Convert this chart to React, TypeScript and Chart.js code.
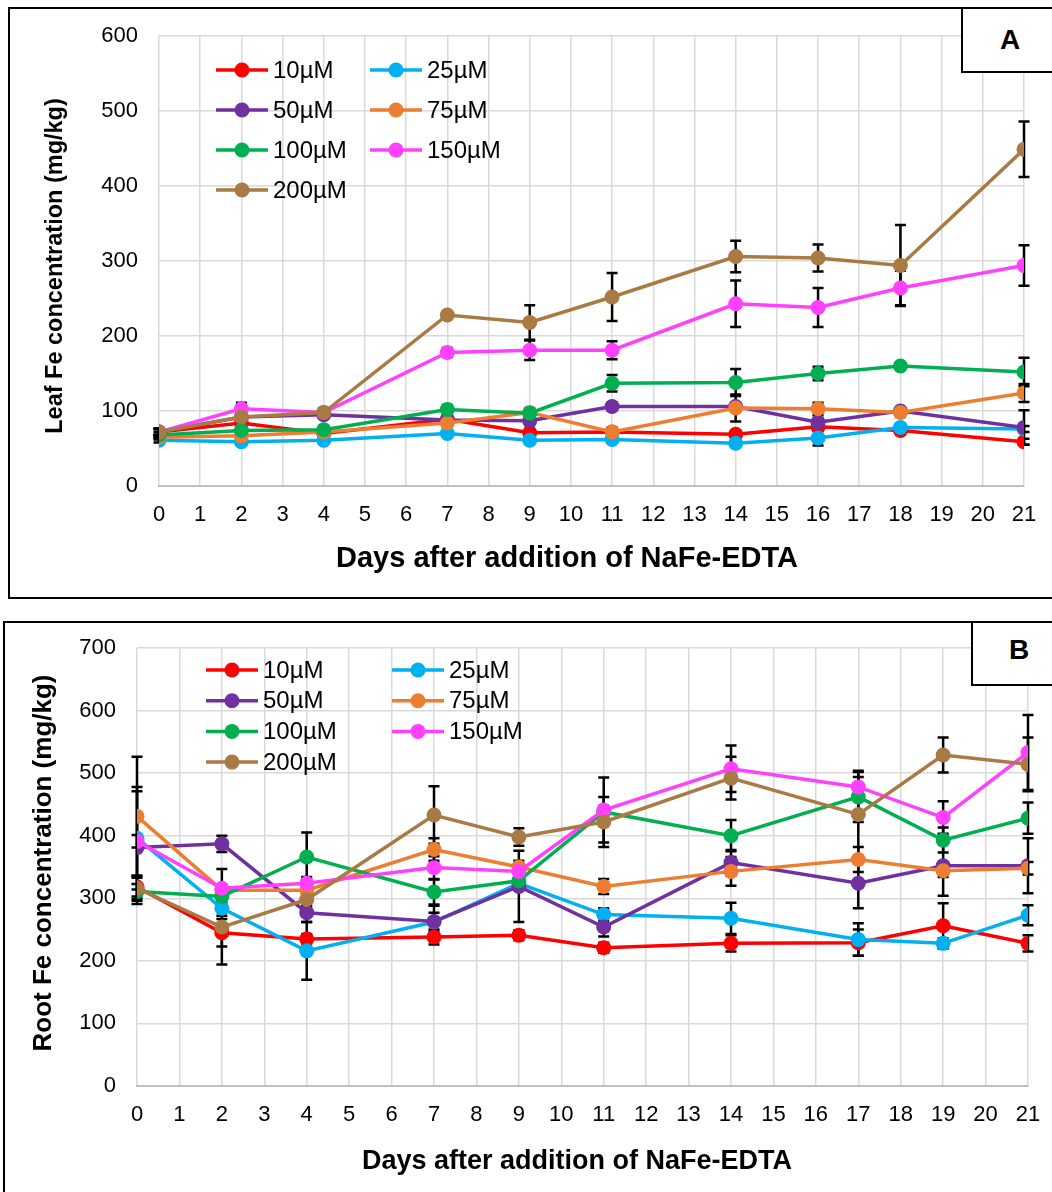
import React, { useEffect, useRef } from "react";
import { Chart, registerables } from "chart.js";

Chart.register(...registerables);

const FONT = "'Liberation Sans', Arial, sans-serif";

const seriesLabels = ["10µM", "25µM", "50µM", "75µM", "100µM", "150µM", "200µM"];
const seriesColors = ["#FF0000", "#00B0F0", "#7030A0", "#ED7D31", "#00B050", "#FF40FF", "#A97A44"];

// ---- Panel A: leaf Fe concentration (mg/kg)
const leafDays = [0, 2, 4, 7, 9, 11, 14, 16, 18, 21];
const leaf10 = [72, 84, 70, 89, 71, 72, 69, 79, 74, 59];
const leaf25 = [61, 59, 61, 70, 61, 62, 57, 64, 78, 76];
const leaf50 = [72, 92, 95, 88, 87, 106, 106, 85, 100, 78];
const leaf75 = [65, 67, 72, 84, 98, 72, 104, 103, 98, 124];
const leaf100 = [68, 74, 75, 102, 97, 137, 138, 150, 160, 152];
const leaf150 = [72, 103, 98, 178, 181, 181, 243, 238, 264, 294];
const leaf200 = [72, 92, 98, 228, 218, 252, 306, 304, 294, 449];

const leafErr10 = [4, 6, 4, 5, 5, 6, 5, 6, 5, 4];
const leafErr25 = [3, 3, 3, 4, 4, 4, 5, 10, 5, 4];
const leafErr50 = [4, 5, 4, 5, 6, 5, 5, 6, 5, 23];
const leafErr75 = [3, 4, 4, 5, 6, 5, 18, 8, 6, 12];
const leafErr100 = [4, 5, 5, 6, 6, 11, 18, 9, 5, 19];
const leafErr150 = [4, 8, 5, 6, 13, 12, 31, 26, 23, 27];
const leafErr200 = [5, 8, 6, 5, 23, 32, 21, 18, 54, 37];

// ---- Panel B: root Fe concentration (mg/kg)
const rootDays = [0, 2, 4, 7, 9, 11, 14, 17, 19, 21];
const root10 = [318, 245, 235, 238, 241, 221, 228, 229, 256, 228];
const root25 = [396, 284, 216, 262, 324, 274, 268, 234, 228, 273];
const root50 = [381, 387, 277, 263, 319, 254, 357, 324, 352, 352];
const root75 = [431, 313, 313, 378, 350, 319, 343, 362, 344, 348];
const root100 = [311, 303, 366, 310, 328, 438, 400, 462, 393, 428];
const root150 = [391, 316, 324, 349, 343, 441, 507, 478, 429, 533];
const root200 = [316, 254, 298, 433, 398, 422, 492, 434, 529, 514];

const rootErr10 = [15, 22, 8, 12, 8, 8, 13, 21, 36, 13];
const rootErr25 = [82, 12, 46, 15, 10, 10, 25, 26, 8, 16];
const rootErr50 = [90, 13, 15, 25, 57, 15, 20, 40, 48, 44];
const rootErr75 = [95, 8, 8, 18, 10, 12, 23, 20, 10, 10];
const rootErr100 = [12, 10, 39, 20, 10, 10, 25, 40, 20, 25];
const rootErr150 = [10, 31, 10, 18, 12, 52, 37, 16, 26, 60];
const rootErr200 = [20, 60, 10, 46, 14, 40, 34, 70, 28, 43];

const xTickMin = 0;
const xTickMax = 21;

type PanelCfg = {
  days: number[];
  values: number[][];
  errors: number[][];
  yMax: number;
  yTitle: string;
  xTitle: string;
  width: number;
  height: number;
  area: { left: number; top: number; right: number; bottom: number };
  tickFont: number;
  xTitleFont: number;
  xTitlePos: [number, number];
  yTitleFont: number;
  yTitlePos: [number, number];
  legend: { x0: number; y0: number; colGap: number; rowGap: number; font: number; textOff: number };
};

function makeDecor(cfg: PanelCfg) {
  return {
    id: "decor",
    beforeDatasetsDraw(chart: any) {
      const { ctx, scales } = chart;
      const xs = scales.x;
      const ys = scales.y;
      ctx.save();
      ctx.strokeStyle = "#000";
      ctx.lineWidth = 2.5;
      cfg.errors.forEach((errs, i) => {
        const vals = cfg.values[i];
        cfg.days.forEach((d, j) => {
          const e = errs[j];
          if (!e) return;
          const x = xs.getPixelForValue(d);
          const yT = ys.getPixelForValue(vals[j] + e);
          const yB = ys.getPixelForValue(vals[j] - e);
          ctx.beginPath();
          ctx.moveTo(x, yT);
          ctx.lineTo(x, yB);
          ctx.moveTo(x - 5.5, yT);
          ctx.lineTo(x + 5.5, yT);
          ctx.moveTo(x - 5.5, yB);
          ctx.lineTo(x + 5.5, yB);
          ctx.stroke();
        });
      });
      ctx.restore();
    },
    afterDraw(chart: any) {
      const { ctx } = chart;
      ctx.save();
      const lg = cfg.legend;
      seriesLabels.forEach((lab, i) => {
        const col = i % 2;
        const row = Math.floor(i / 2);
        const cx = lg.x0 + col * lg.colGap;
        const cy = lg.y0 + row * lg.rowGap;
        ctx.strokeStyle = seriesColors[i];
        ctx.lineWidth = 3.5;
        ctx.beginPath();
        ctx.moveTo(cx - 26, cy);
        ctx.lineTo(cx + 26, cy);
        ctx.stroke();
        ctx.fillStyle = seriesColors[i];
        ctx.beginPath();
        ctx.arc(cx, cy, 7.5, 0, Math.PI * 2);
        ctx.fill();
        ctx.fillStyle = "#000";
        ctx.font = `${lg.font}px ${FONT}`;
        ctx.textAlign = "left";
        ctx.textBaseline = "middle";
        ctx.fillText(lab, cx + lg.textOff, cy + 1);
      });
      ctx.fillStyle = "#000";
      ctx.font = `bold ${cfg.xTitleFont}px ${FONT}`;
      ctx.textAlign = "center";
      ctx.textBaseline = "alphabetic";
      ctx.fillText(cfg.xTitle, cfg.xTitlePos[0], cfg.xTitlePos[1]);
      ctx.translate(cfg.yTitlePos[0], cfg.yTitlePos[1]);
      ctx.rotate(-Math.PI / 2);
      ctx.font = `bold ${cfg.yTitleFont}px ${FONT}`;
      ctx.fillText(cfg.yTitle, 0, 0);
      ctx.restore();
    },
  };
}

function Panel({ cfg }: { cfg: PanelCfg }) {
  const ref = useRef<HTMLCanvasElement | null>(null);
  useEffect(() => {
    if (!ref.current) return;
    const yW = 100;
    const xH = 60;
    const chart = new Chart(ref.current, {
      type: "line",
      data: {
        datasets: seriesLabels.map((lab, i) => ({
          label: lab,
          data: cfg.days.map((d, j) => ({ x: d, y: cfg.values[i][j] })),
          borderColor: seriesColors[i],
          backgroundColor: seriesColors[i],
          pointBackgroundColor: seriesColors[i],
          pointBorderWidth: 0,
          pointRadius: 7.5,
          borderWidth: 3.5,
          tension: 0,
          fill: false,
          order: seriesLabels.length - i,
        })),
      },
      options: {
        responsive: false,
        animation: false,
        layout: {
          padding: {
            left: cfg.area.left - yW,
            top: cfg.area.top,
            right: cfg.width - cfg.area.right,
            bottom: cfg.height - cfg.area.bottom - xH,
          },
        },
        plugins: { legend: { display: false }, tooltip: { enabled: false } },
        scales: {
          x: {
            type: "linear",
            min: xTickMin,
            max: xTickMax,
            ticks: {
              stepSize: 1,
              autoSkip: false,
              maxRotation: 0,
              color: "#000",
              padding: 16,
              font: { family: FONT, size: cfg.tickFont },
            },
            grid: { color: "#D9D9D9", lineWidth: 1.5, drawTicks: false },
            border: { color: "#BFBFBF", width: 2 },
            afterFit: (s: any) => {
              s.height = xH;
              s.paddingLeft = 0;
              s.paddingRight = 0;
            },
          },
          y: {
            min: 0,
            max: cfg.yMax,
            ticks: {
              stepSize: 100,
              color: "#000",
              padding: 21,
              font: { family: FONT, size: cfg.tickFont },
            },
            grid: { color: "#D9D9D9", lineWidth: 1.5, drawTicks: false },
            border: { display: false },
            afterFit: (s: any) => {
              s.width = yW;
              s.paddingTop = 0;
              s.paddingBottom = 0;
            },
          },
        },
      } as any,
      plugins: [makeDecor(cfg)],
    });
    return () => chart.destroy();
  }, [cfg]);
  return <canvas ref={ref} width={cfg.width} height={cfg.height} style={{ display: "block" }} />;
}

const leafCfg: PanelCfg = {
  days: leafDays,
  values: [leaf10, leaf25, leaf50, leaf75, leaf100, leaf150, leaf200],
  errors: [leafErr10, leafErr25, leafErr50, leafErr75, leafErr100, leafErr150, leafErr200],
  yMax: 600,
  yTitle: "Leaf Fe concentration (mg/kg)",
  xTitle: "Days after addition of NaFe-EDTA",
  width: 1052,
  height: 600,
  area: { left: 159, top: 36, right: 1024, bottom: 486 },
  tickFont: 22,
  xTitleFont: 29,
  xTitlePos: [567, 567],
  yTitleFont: 23.5,
  yTitlePos: [62, 266],
  legend: { x0: 242, y0: 70, colGap: 154, rowGap: 40, font: 24, textOff: 31 },
};

const rootCfg: PanelCfg = {
  days: rootDays,
  values: [root10, root25, root50, root75, root100, root150, root200],
  errors: [rootErr10, rootErr25, rootErr50, rootErr75, rootErr100, rootErr150, rootErr200],
  yMax: 700,
  yTitle: "Root Fe concentration (mg/kg)",
  xTitle: "Days after addition of NaFe-EDTA",
  width: 1052,
  height: 592,
  area: { left: 137, top: 48, right: 1028, bottom: 486 },
  tickFont: 22,
  xTitleFont: 27,
  xTitlePos: [577, 569],
  yTitleFont: 26,
  yTitlePos: [51, 263],
  legend: { x0: 232, y0: 70, colGap: 186, rowGap: 30.7, font: 24, textOff: 31 },
};

export default function App() {
  useEffect(() => {
    document.body.style.margin = "0";
  }, []);
  const box: React.CSSProperties = {
    position: "absolute",
    border: "2px solid #000",
    boxSizing: "border-box",
    pointerEvents: "none",
  };
  const lbl: React.CSSProperties = {
    position: "absolute",
    width: 40,
    height: 32,
    lineHeight: "32px",
    textAlign: "center",
    fontFamily: FONT,
    fontWeight: "bold",
    fontSize: 28,
    color: "#000",
  };
  return (
    <div style={{ position: "relative", width: 1052, height: 1192, overflow: "hidden", background: "#fff" }}>
      <div style={{ position: "absolute", left: 0, top: 0 }}>
        <Panel cfg={leafCfg} />
      </div>
      <div style={{ position: "absolute", left: 0, top: 600 }}>
        <Panel cfg={rootCfg} />
      </div>
      <div style={{ ...box, left: 8, top: 7, width: 1060, height: 592 }} />
      <div style={{ ...box, left: 3, top: 621, width: 1060, height: 600 }} />
      <div style={{ ...box, left: 961, top: 7, width: 100, height: 66, background: "#fff" }}>
        <div style={{ ...lbl, left: 1010 - 963 - 20, top: 40 - 9 - 16 }}>A</div>
      </div>
      <div style={{ ...box, left: 971, top: 621, width: 100, height: 65, background: "#fff" }}>
        <div style={{ ...lbl, left: 1019 - 973 - 20, top: 650 - 623 - 16 }}>B</div>
      </div>
    </div>
  );
}
